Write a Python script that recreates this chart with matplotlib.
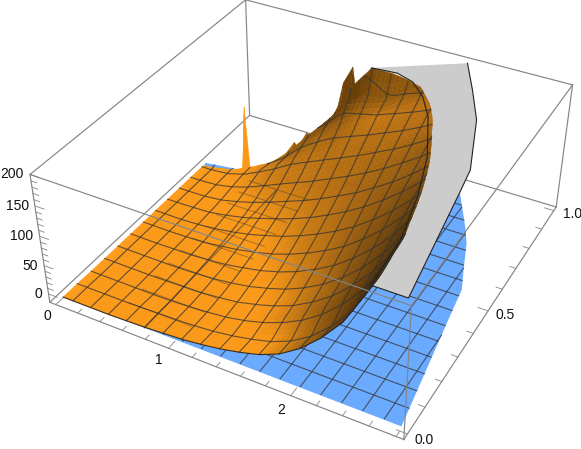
import numpy as np
import matplotlib
matplotlib.use('Agg')
import matplotlib.pyplot as plt
from mpl_toolkits.mplot3d import proj3d
from mpl_toolkits.mplot3d.art3d import Poly3DCollection
from matplotlib.path import Path

W, H = 581, 449
xl = (-0.056, 2.856); yl = (-0.02, 1.02); zl = (-15, 200)

# outline of the flat blue sheet, its left side stays under the orange one
edge_x = [.09, 2.81, 2.65, 2.61, 2.53, 2.42, 2.33, 2.11, 2.02, 1.39, .32, .03, .09]
edge_y = [0, 0, .416, .526, .605, .718, .784, .928, .99, .84, .723, .705, .66]
# where the orange sheet leaves the box at z=200, and the far side of the grey cap
rim_x = [2.55, 2.52, 2.42, 2.28, 2.07, 1.92, 1.76, 1.60, 1.39]
rim_y = [0, .177, .348, .515, .685, .769, .827, .849, .841]
cap_x = [2.02, 2.21, 2.40, 2.61, 2.65, 2.81]
cap_y = [.991, .866, .733, .514, .416, 0]
# back edge of the orange sheet and its jagged heights
back_x = [.03, .32, 1.39, 2.02]
back_y = [.695, .712, .84, .99]
jag_x = [.38, .41, .44, .55, .71, .80, .83, .90, .93, .98, 1.07, 1.14, 1.18, 1.25, 1.27, 1.33, 1.39]
jag_z = [3, 113, 4, 10, 29, 58, 50, 78, 68, 76, 96, 129, 171, 199, 166, 179, 200]
# mesh positions and orange heights at them
xs = np.array([.03, .12, .28, .44, .60, .76, .92, 1.08, 1.24, 1.40, 1.56, 1.72, 1.88, 2.04, 2.20, 2.36, 2.52, 2.68])
ys = np.array([0, .0625, .125, .1875, .25, .3125, .375, .4375, .5, .5625, .625, .6875, .75, .8125, .875])
z_rows = [
    [-7, -7, -7, -7, -6, -5, -3, -1, 3, 8, 15, 24, 38, 60, 90, 128, 184, 246],
    [-7, -7, -7, -7, -6, -5, -4, -2, 1, 6, 13, 22, 36, 57, 87, 126, 184, 250],
    [-8, -8, -8, -8, -8, -7, -5, -2, 2, 9, 19, 33, 51, 75, 106, 144, 192, 251],
    [-8, -8, -8, -8, -7, -6, -4, 0, 5, 14, 25, 39, 59, 83, 114, 151, 197, 251],
    [-8, -8, -8, -8, -7, -5, -2, 3, 10, 20, 32, 49, 69, 95, 126, 163, 208, 259],
    [-8, -8, -8, -7, -6, -3, 1, 8, 16, 27, 42, 60, 81, 108, 139, 175, 216, 264],
    [-8, -8, -8, -7, -5, 0, 6, 14, 24, 38, 54, 73, 95, 122, 152, 186, 225, 269],
    [-8, -8, -8, -6, -2, 4, 12, 23, 35, 50, 68, 88, 111, 137, 166, 198, 234, 272],
    [-8, -8, -7, -5, 1, 9, 20, 32, 46, 62, 81, 101, 125, 150, 178, 208, 241, 276],
    [-8, -8, -7, -3, 5, 16, 29, 44, 59, 77, 96, 117, 140, 165, 191, 220, 250, 281],
    [-8, -8, -6, 1, 12, 27, 43, 59, 76, 95, 114, 135, 156, 179, 204, 229, 255, 282],
    [-8, -8, -5, 4, 20, 38, 60, 78, 96, 114, 132, 152, 171, 192, 213, 234, 255, 278],
    [-8, -8, -5, 3, 15, 38, 70, 95, 118, 135, 151, 168, 186, 205, 225, 244, 264, 284],
    [-8, -7, -2, 8, 25, 50, 80, 110, 150, 160, 165, 186, 204, 223, 242, 261, 281, 300],
    [-8, -7, 5, 20, 45, 75, 120, 190, 245, 250, 240, 240, 262, 285, 305, 325, 345, 365],
]
x_ticks = [0, 1, 2]
y_ticks = [0, .5, 1]
z_ticks = [0, 50, 100, 150, 200]
Zt = np.array(z_rows, float)

fig = plt.figure(figsize=(W / 100, H / 100), dpi=100)
ax = fig.add_subplot(projection='3d')
ax.set_axis_off()
ax.computed_zorder = False
S = 500
a, b, cx, cy = 2.4956, 2.5026, 308.021, 198.8238
ax.view_init(36.0629, -61.6582)
ax.set_proj_type('persp', focal_length=0.4891)
ax.set_box_aspect((a, b, 1), zoom=1.1012)
ax.set_position([(cx - S / 2) / W, (H - cy - S / 2) / H, S / W, S / H])
ax.apply_aspect()
BLUE = '#6aaaff'; GRAY = '#cccccc'; BOX = '#858585'; MESH = '#333333'


def seg(p, q, z):
    ax.plot([xl[p[0]], xl[q[0]]], [yl[p[1]], yl[q[1]]], [zl[p[2]], zl[q[2]]],
            color=BOX, lw=.85, clip_on=False, zorder=z)


for p, q in [((0, 0, 0), (0, 1, 0)), ((0, 1, 0), (1, 1, 0)), ((0, 1, 0), (0, 1, 1)), ((0, 1, 1), (1, 1, 1)),
             ((0, 0, 1), (0, 1, 1)), ((1, 1, 0), (1, 1, 1)), ((0, 0, 0), (0, 0, 1)), ((0, 0, 0), (1, 0, 0)),
             ((1, 0, 0), (1, 1, 0))]:
    seg(p, q, 1)
for p, q in [((0, 0, 1), (1, 0, 1)), ((1, 0, 1), (1, 1, 1)), ((1, 0, 0), (1, 0, 1))]:
    seg(p, q, 20)

tl = dict(color=BOX, lw=.6, clip_on=False, zorder=1)
for v in np.arange(0, 2.81, .2):
    n_ = .03 if abs(v - round(v)) < 1e-6 else .018
    ax.plot([v, v], [yl[0], yl[0] + n_], [zl[0], zl[0]], **tl)
for v in np.arange(0, 1.01, .1):
    n_ = .08 if round(v * 10) % 5 == 0 else .05
    ax.plot([xl[1], xl[1] - n_], [v, v], [zl[0], zl[0]], **tl)
for v in range(0, 201, 10):
    n_ = .08 if v % 50 == 0 else .05
    ax.plot([xl[0], xl[0] + n_], [yl[0], yl[0]], [v, v], **tl)


def poly(x, y, z, color, zo):
    c = Poly3DCollection([list(zip(x, y, z))], facecolors=color, edgecolors='none', zorder=zo)
    c.set_clip_on(False)
    ax.add_collection3d(c, autolim=False)


zb = -6
poly(edge_x, edge_y, [zb] * len(edge_x), BLUE, 2)
dom = Path(np.c_[edge_x, edge_y])
ml = dict(color=MESH, lw=.8, alpha=.75, clip_on=False)
for v in xs[1:]:
    t = np.linspace(0, 1, 300)
    m = dom.contains_points(np.c_[np.full(300, v), t])
    ax.plot(np.full(300, v), t, np.where(m, zb, np.nan), zorder=3, **ml)
for v in ys[1:]:
    t = np.linspace(0, 2.9, 500)
    m = dom.contains_points(np.c_[t, np.full(500, v)])
    ax.plot(t, np.full(500, v), np.where(m, zb, np.nan), zorder=3, **ml)

gx = rim_x + cap_x; gy = rim_y + cap_y
poly(gx, gy, [200] * len(gx), GRAY, 4)
ax.plot(rim_x, rim_y, [200] * len(rim_x), color='#222222', lw=.8, clip_on=False, zorder=7)
ax.plot(cap_x + [rim_x[0]], cap_y + [rim_y[0]], [200] * (len(cap_x) + 1), color='#222222', lw=.8,
        clip_on=False, zorder=7)

# light the orange sheet from the slopes of the table
X = xs / 2.912 * a; Y = ys / 1.04 * b; Z = Zt / 215
nrm = np.stack([-np.gradient(Z, X, axis=1), -np.gradient(Z, Y, axis=0), np.ones_like(Z)], -1)
nrm /= np.linalg.norm(nrm, axis=-1, keepdims=True)
L = np.array([.34, .05, .93]); L /= np.linalg.norm(L)
B = np.clip(.18 + 1.1 * np.maximum(nrm @ L, 0), 0, 1) ** 1.2
base = np.array([1.0, .605, .085])


def bil(T, x, y):
    # value inside one mesh cell, only for shading and for clipping at the rim
    i = np.clip(np.searchsorted(xs, x) - 1, 0, len(xs) - 2)
    j = np.clip(np.searchsorted(ys, y) - 1, 0, len(ys) - 2)
    u = (x - xs[i]) / (xs[i + 1] - xs[i]); w = (y - ys[j]) / (ys[j + 1] - ys[j])
    return (T[j, i] * (1 - u) + T[j, i + 1] * u) * (1 - w) + (T[j + 1, i] * (1 - u) + T[j + 1, i + 1] * u) * w


def clip(poly_, g):
    out = []
    for i in range(len(poly_)):
        p, q = poly_[i], poly_[(i + 1) % len(poly_)]
        gp, gq = g(p), g(q)
        if gp >= 0:
            out.append(p)
        if gp * gq < 0:
            s = gp / (gp - gq)
            out.append(tuple(p[k] + s * (q[k] - p[k]) for k in range(3)))
    return out


yb = lambda x: np.interp(x, back_x, back_y)
sub = 4
xf = np.concatenate([np.linspace(xs[i], xs[i + 1], sub, endpoint=False) for i in range(len(xs) - 1)] + [[xs[-1]]])
yf = np.concatenate([np.linspace(ys[i], ys[i + 1], sub, endpoint=False) for i in range(len(ys) - 1)] + [[ys[-1]]])
polys = []; cols = []
for j in range(len(yf) - 1):
    for i in range(len(xf) - 1):
        q = [(xf[i + s], yf[j + r], bil(Zt, xf[i + s], yf[j + r])) for s, r in ((0, 0), (1, 0), (1, 1), (0, 1))]
        q = clip(q, lambda v: 200 - v[2])
        if len(q) >= 3:
            q = clip(q, lambda v: yb(v[0]) - v[1])
        if len(q) >= 3:
            polys.append(q)
            cols.append(base * bil(B, (xf[i] + xf[i + 1]) / 2, (yf[j] + yf[j + 1]) / 2))
for k in range(len(jag_x) - 1):
    x0, x1 = jag_x[k], jag_x[k + 1]
    y0, y1 = yb(x0), yb(x1)
    polys.append([(x0, y0, jag_z[k]), (x1, y1, jag_z[k + 1]), (x1, y1 - .02, bil(Zt, x1, y1 - .02)),
                  (x0, y0 - .02, bil(Zt, x0, y0 - .02))])
    cols.append(base * bil(B, x0, y0 - .02))
cp = Poly3DCollection(polys, facecolors=cols, edgecolors=cols, linewidths=.3, zorder=5)
cp.set_clip_on(False)
ax.add_collection3d(cp, autolim=False)

# the arcs lean towards y=0 as they climb
beta = .13
for k in range(len(ys)):
    t = np.linspace(xs[0], xs[-1], 600)
    yv = ys[k] * (1 - beta * (t / 2.2) ** 2)
    zz = np.array([bil(Zt, u, w) for u, w in zip(t, yv)])
    m = (zz <= 200) & (yv <= yb(t))
    kw = dict(ml, color='#222222', alpha=.9) if k == 0 else ml
    ax.plot(t, yv, np.where(m, zz, np.nan), zorder=6, **kw)
for v in xs[1:]:
    t = np.linspace(0, ys[-1], 400)
    zz = np.array([bil(Zt, v, w) for w in t])
    m = (zz <= 200) & (t <= yb(v))
    ax.plot(np.full(400, v), t, np.where(m, zz, np.nan), zorder=6, **ml)

# blue mesh showing through where the two sheets almost touch
for v in ys[1:12]:
    t = np.linspace(.5, 1.05, 60)
    ax.plot(t, np.full(60, v), np.full(60, zb), color=MESH, lw=.7, alpha=.4, clip_on=False, zorder=6)
t = np.linspace(0, .68, 60)
ax.plot(np.full(60, .76), t, np.full(60, zb), color=MESH, lw=1, alpha=.5, clip_on=False, zorder=6)

ax.set_xlim(*xl); ax.set_ylim(*yl); ax.set_zlim(*zl)
M = ax.get_proj()


def label(txt, pt, dx, dy, ha):
    px, py, _ = proj3d.proj_transform(pt[0], pt[1], pt[2], M)
    ax.annotate(txt, xy=(px, py), xytext=(dx * .72, -dy * .72), textcoords='offset points', ha=ha, va='center',
                fontsize=10, family='Liberation Sans', color='#111111', annotation_clip=False)


for v, dx, dy in zip(x_ticks, [-9, -10, -10], [11, 12, 14]):
    label(str(v), (v, yl[0], zl[0]), dx, dy, 'center')
for v, dx, dy in zip(y_ticks, [7, 7, 9], [6, 4, 3]):
    label('%.1f' % v, (xl[1], v, zl[0]), dx, dy, 'left')
for v in z_ticks:
    label(str(v), (xl[0], yl[0], v), -6, 0, 'right')
fig.savefig('out.png', dpi=100)
